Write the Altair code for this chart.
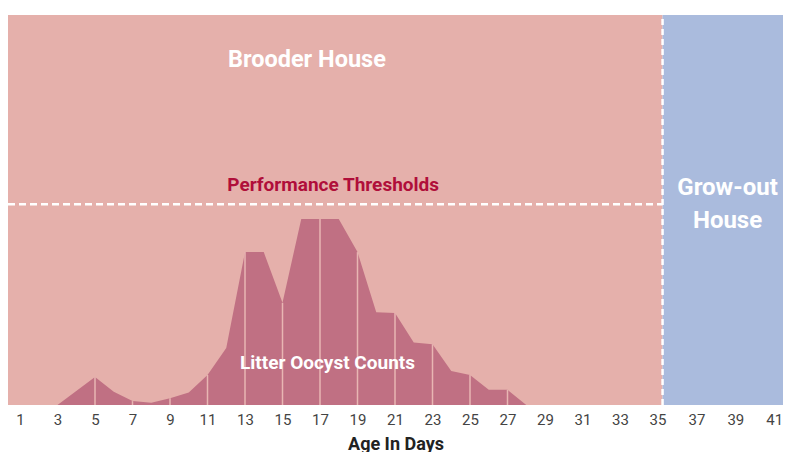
import altair as alt
import pandas as pd

# ---- data ----
days = [3, 4, 5, 6, 7, 8, 9, 10, 11, 12, 13, 14, 15, 16, 17, 18, 19, 20, 21, 22, 23, 24, 25, 26, 27, 28]
counts = [0, 3.6, 7.2, 3.4, 1.0, 0.6, 1.7, 3.2, 7.7, 14.6, 39.2, 39.2, 26.2, 47.7, 47.7, 47.7, 39.2,
          23.8, 23.6, 16.0, 15.6, 8.7, 7.7, 3.9, 3.9, 0]
tick_days = list(range(1, 42, 2))

x_start = 0.36
transfer_day = 35.26
x_end = 41.45
threshold = 51.5
y_max = 100

zones = ["Brooder House", "Grow-out House"]
zone_start = [x_start, transfer_day]
zone_end = [transfer_day, x_end]
zone_colors = ["#E5B0AB", "#AABBDD"]

labels = ["Brooder House", "Performance Thresholds", "Litter Oocyst Counts"]
label_x = [16.3, 17.7, 17.4]
label_y = [88.5, 56.4, 10.8]
label_color = ["white", "#B00E3A", "white"]
label_size = [23.5, 19, 19]

grow_label = ["Grow-out", "House"]
grow_x = 38.6
grow_y = 55.6

FONT = "Roboto"

W, H = 775, 390
xscale = alt.Scale(domain=[x_start, 35, x_end], range=[0, 649.5, W], nice=False, zero=False)
yscale = alt.Scale(domain=[0, y_max], nice=False)

zone_df = pd.DataFrame({"zone": zones, "x": zone_start, "x2": zone_end,
                        "y": [0, 0], "y2": [y_max, y_max], "c": zone_colors})
area_df = pd.DataFrame({"day": days, "count": counts})
rule_df = area_df[(area_df["day"] % 2 == 1) & (area_df["day"] >= 5) & (area_df["day"] <= 27)].copy()
rule_df["zero"] = 0
lab_df = pd.DataFrame({"t": labels, "x": label_x, "y": label_y, "c": label_color, "s": label_size})

xaxis = alt.Axis(values=tick_days, title="Age In Days", grid=False, ticks=False, domain=False,
                 labelFont=FONT, labelFontSize=15, labelColor="#444444", labelPadding=7,
                 labelFlush=False, labelOverlap=False, titleFont=FONT, titleFontSize=18,
                 titleFontWeight="bold", titleColor="#222222", titlePadding=8)

zones_layer = alt.Chart(zone_df).mark_rect().encode(
    x=alt.X("x:Q", scale=xscale, axis=xaxis),
    x2="x2:Q",
    y=alt.Y("y:Q", scale=yscale, axis=None),
    y2="y2:Q",
    color=alt.Color("c:N", scale=None, legend=None),
)

area_layer = alt.Chart(area_df).mark_area(color="#C07083", interpolate="linear").encode(
    x=alt.X("day:Q", scale=xscale, axis=xaxis),
    y=alt.Y("count:Q", scale=yscale, axis=None),
)

rules_layer = alt.Chart(rule_df).mark_rule(color="#E8B6B3", strokeWidth=1.5).encode(
    x=alt.X("day:Q", scale=xscale, axis=xaxis),
    y=alt.Y("zero:Q", scale=yscale, axis=None),
    y2="count:Q",
)

thr_df = pd.DataFrame({"x": [x_start], "x2": [transfer_day], "y": [threshold]})
thr_layer = alt.Chart(thr_df).mark_rule(color="white", strokeWidth=2.5, strokeDash=[7, 4]).encode(
    x=alt.X("x:Q", scale=xscale, axis=xaxis), x2="x2:Q", y=alt.Y("y:Q", scale=yscale, axis=None)
)

vline_df = pd.DataFrame({"x": [transfer_day], "y": [0], "y2": [y_max]})
vline_layer = alt.Chart(vline_df).mark_rule(color="white", strokeWidth=2.5, strokeDash=[6, 4]).encode(
    x=alt.X("x:Q", scale=xscale, axis=xaxis), y=alt.Y("y:Q", scale=yscale, axis=None), y2="y2:Q"
)

text_layer = alt.Chart(lab_df).mark_text(font=FONT, fontWeight="bold", align="center",
                                         baseline="middle").encode(
    x=alt.X("x:Q", scale=xscale, axis=xaxis),
    y=alt.Y("y:Q", scale=yscale, axis=None),
    text="t:N",
    color=alt.Color("c:N", scale=None, legend=None),
    size=alt.Size("s:Q", scale=None, legend=None),
)

grow_df = pd.DataFrame({"t": [grow_label], "x": [grow_x], "y": [grow_y]})
grow_layer = alt.Chart(grow_df).mark_text(font=FONT, fontWeight="bold", fontSize=24, color="white",
                                          align="center", baseline="middle", lineHeight=33).encode(
    x=alt.X("x:Q", scale=xscale, axis=xaxis), y=alt.Y("y:Q", scale=yscale, axis=None), text="t"
)

chart = alt.layer(zones_layer, area_layer, rules_layer, thr_layer, vline_layer, text_layer,
                  grow_layer).properties(
    width=W, height=H, autosize=alt.AutoSizeParams(type="none"),
    padding={"left": 0, "top": 7, "right": 0, "bottom": 47},
).configure_view(strokeWidth=0).configure_axis(labelOverlap=False)

chart.save("out.html", embed_options={"renderer": "svg", "actions": False})
